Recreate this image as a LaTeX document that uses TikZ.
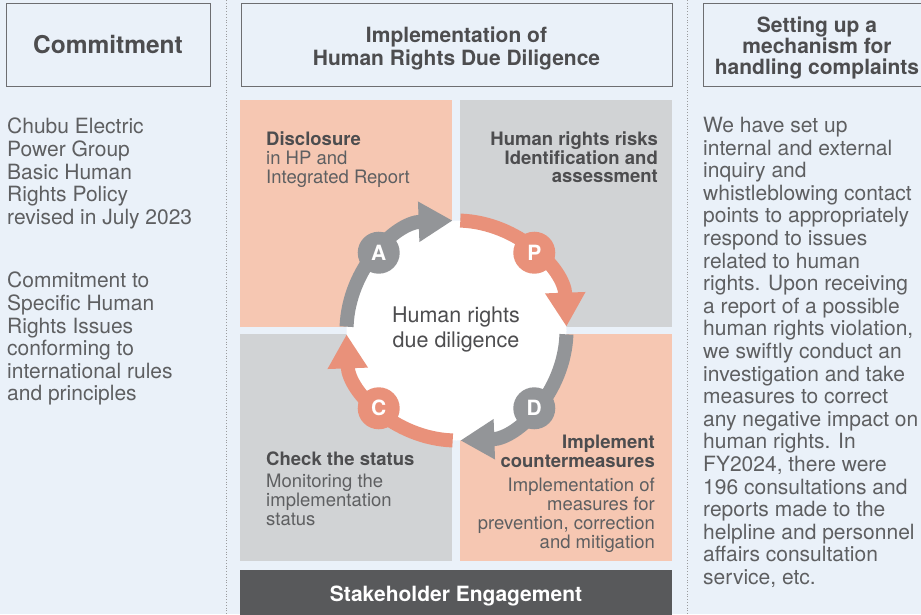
\documentclass[tikz,border=0pt]{standalone}
\usepackage{fontspec}
\setmainfont{TeX Gyre Heros}
\usepackage{tikz}
\usetikzlibrary{arrows.meta}
\definecolor{hrblue}{HTML}{EAF1F9}
\definecolor{hrline}{HTML}{6D6E71}
\definecolor{hrsep}{HTML}{9A9B9D}
\definecolor{hrpeach}{HTML}{F6C7B2}
\definecolor{hrgray}{HTML}{D1D3D5}
\definecolor{hrsalmon}{HTML}{E9917A}
\definecolor{hrarrow}{HTML}{939598}
\definecolor{hrbar}{HTML}{58595B}
\definecolor{hrdark}{HTML}{4D4D4F}
\definecolor{hrmid}{HTML}{5E5F61}
\newcommand{\qhead}[1]{{\bfseries\color{hrdark}#1}}
\newcommand{\hdrstrut}{\rule{0pt}{24pt}}

\tikzset{
  hdrbox/.style={draw=hrline, line width=1pt, fill=hrblue, text=hrdark, align=center, inner sep=0pt, minimum height=83pt},
  quadbox/.style={minimum width=212pt, minimum height=227pt, inner sep=0pt},
  bodytxt/.style={anchor=north west, inner sep=0pt, text=hrmid, align=left, font=\fontsize{21}{22.6}\selectfont},
  quadtxt/.style={inner sep=0pt, text=hrmid, font=\fontsize{18.5}{19}\selectfont},
  ringarc/.style={line width=14pt, -{Triangle[length=34pt,width=38pt]}},
  ltrdot/.style={circle, minimum size=42pt, inner sep=0pt, text=white, font=\fontsize{21}{21}\selectfont\bfseries},
  sepline/.style={draw=hrsep, dotted, line width=0.8pt}
}

\begin{document}
\begin{tikzpicture}[x=1pt, y=1pt]
  \useasboundingbox (0,0) rectangle (921,-614);
  \clip (0,0) rectangle (921,-614);
  \fill[hrblue] (0,0) rectangle (921,-614);
  \draw[sepline] (226,0) -- (226,-614);
  \draw[sepline] (687,0) -- (687,-614);

  % column heads
  \node[hdrbox, minimum width=204pt, font=\fontsize{24.5}{26}\selectfont\bfseries] (commit) at (108,-44.5) {Commitment};
  \node[hdrbox, minimum width=431pt, font=\fontsize{21}{23}\selectfont\bfseries] (hrdd) at (456.5,-44.5) {\hdrstrut Implementation of\\Human Rights Due Diligence};
  \node[hdrbox, minimum width=228pt, font=\fontsize{21}{21}\selectfont\bfseries] (griev) at (817,-44.5) {\rule{0pt}{23.5pt}Setting up a\\mechanism for\\handling complaints};

  % left column
  \node[bodytxt] (policy) at (7,-118) {Chubu Electric\\Power Group\\Basic Human\\Rights Policy\\revised in July 2023};
  \node[bodytxt] (issues) at (7,-272) {Commitment to\\Specific Human\\Rights Issues\\conforming to\\international rules\\and principles};

  % quadrants
  \node[quadbox, fill=hrpeach] (qa) at (346,-213.5) {};
  \node[quadbox, fill=hrgray] (qp) at (566,-213.5) {};
  \node[quadbox, fill=hrgray] (qc) at (346,-447.5) {};
  \node[quadbox, fill=hrpeach] (qd) at (566,-447.5) {};
  \node[fill=hrbar, minimum width=432pt, minimum height=51pt, inner sep=0pt, text=white, font=\fontsize{21}{21}\selectfont\bfseries] (stake) at (456,-595.5) {Stakeholder Engagement};

  \node[quadtxt, anchor=north west, align=left] (qatxt) at (266,-131.7) {\qhead{Disclosure}\\in HP and\\Integrated Report};
  \node[quadtxt, anchor=north east, align=right, text=hrdark, font=\fontsize{18.5}{18.5}\selectfont\bfseries] (qptxt) at (658,-131.7) {Human rights risks\\Identification and\\assessment};
  \node[quadtxt, anchor=north west, align=left] (qctxt) at (266,-451.7) {\qhead{Check the status}\\[3pt]Monitoring the\\implementation\\status};
  \node[quadtxt, anchor=north east, align=right] (qdtxt) at (655,-434.7) {\qhead{Implement}\\\qhead{countermeasures}\\[5pt]Implementation of\\measures for\\prevention, correction\\and mitigation};

  % PDCA cycle
  \coordinate (cyc) at (456.5,-330.5);
  \fill[white] (cyc) circle[radius=110];
  \draw[ringarc, hrsalmon] ([shift={(88:110)}]cyc) arc[start angle=88, end angle=2, radius=110];
  \draw[ringarc, hrarrow] ([shift={(-2:110)}]cyc) arc[start angle=-2, end angle=-88, radius=110];
  \draw[ringarc, hrsalmon] ([shift={(-92:110)}]cyc) arc[start angle=-92, end angle=-178, radius=110];
  \draw[ringarc, hrarrow] ([shift={(178:110)}]cyc) arc[start angle=178, end angle=92, radius=110];

  \node[ltrdot, fill=hrsalmon] (ltrP) at ([shift={(45:110)}]cyc) {P};
  \node[ltrdot, fill=hrarrow] (ltrD) at ([shift={(-45:110)}]cyc) {D};
  \node[ltrdot, fill=hrsalmon] (ltrC) at ([shift={(-135:110)}]cyc) {C};
  \node[ltrdot, fill=hrarrow] (ltrA) at ([shift={(135:110)}]cyc) {A};
  \node[align=center, inner sep=0pt, text=hrdark, font=\fontsize{21.5}{25}\selectfont] (hrddtxt) at (456,-329) {Human rights\\due diligence};

  % right column
  \node[bodytxt] (desk) at (703,-117) {We have set up\\internal and external\\inquiry and\\whistleblowing contact\\points to appropriately\\respond to issues\\related to human\\rights. Upon receiving\\a report of a possible\\human rights violation,\\we swiftly conduct an\\investigation and take\\measures to correct\\any negative impact on\\human rights. In\\FY2024, there were\\196 consultations and\\reports made to the\\helpline and personnel\\affairs consultation\\service, etc.};
\end{tikzpicture}
\end{document}
